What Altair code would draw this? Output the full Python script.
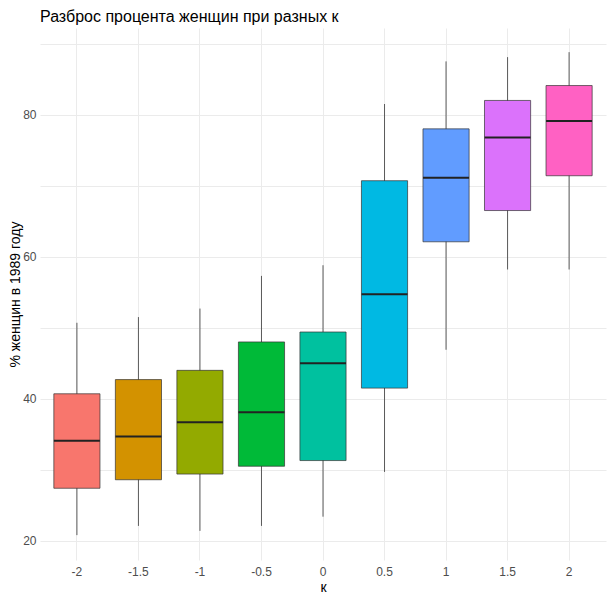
import altair as alt
import pandas as pd

categories = ["-2", "-1.5", "-1", "-0.5", "0", "0.5", "1", "1.5", "2"]
lower = [20.8, 22.1, 21.4, 22.1, 23.4, 29.7, 46.9, 58.2, 58.2]
q1 = [27.4, 28.6, 29.4, 30.5, 31.3, 41.5, 62.1, 66.5, 71.4]
median = [34.1, 34.7, 36.7, 38.1, 45.0, 54.7, 71.1, 76.8, 79.1]
q3 = [40.7, 42.7, 44.0, 48.0, 49.4, 70.7, 78.0, 82.0, 84.1]
upper = [50.7, 51.5, 52.7, 57.3, 58.8, 81.5, 87.5, 88.1, 88.8]
colors = ["#F8766D", "#D39200", "#93AA00", "#00BA38", "#00C19F",
          "#00B9E3", "#619CFF", "#DB72FB", "#FF61C3"]

df = pd.DataFrame({"k": categories, "lower": lower, "q1": q1,
                   "median": median, "q3": q3, "upper": upper})

xenc = alt.X("k:N", sort=categories, title="к",
             scale=alt.Scale(paddingInner=0, paddingOuter=0.1),
             axis=alt.Axis(labelAngle=0, grid=True, bandPosition=0.5))
yscale = alt.Scale(domain=[17.3, 92.2], nice=False, zero=False)
yaxis = alt.Axis(values=[20, 30, 40, 50, 60, 70, 80, 90],
                 labelExpr="datum.value % 20 === 0 ? datum.label : ''",
                 grid=True)
color = alt.Color("k:N", scale=alt.Scale(domain=categories, range=colors), legend=None)

base = alt.Chart(df)

whisk = base.mark_rule(color="#333333", strokeWidth=0.8).encode(
    x=xenc,
    y=alt.Y("lower:Q", scale=yscale, axis=yaxis, title="% женщин в 1989 году"),
    y2="upper:Q",
)
box = base.mark_bar(stroke="#333333", strokeWidth=0.7,
                    width=alt.RelativeBandSize(0.75)).encode(
    x=xenc,
    y=alt.Y("q1:Q", scale=yscale),
    y2="q3:Q",
    color=color,
)
med = base.mark_tick(color="#222222", thickness=2, size=46, opacity=1).encode(
    x=xenc,
    y=alt.Y("median:Q", scale=yscale),
)

chart = alt.layer(whisk, box, med).properties(
    width=566, height=532,
    title=alt.TitleParams("Разброс процента женщин при разных к", anchor="start",
                          frame="group", fontSize=16, font="Liberation Sans",
                          fontWeight="normal", color="#000000",
                          baseline="alphabetic", offset=8, dy=18),
    autosize=alt.AutoSizeParams(type="none"),
    padding={"left": 40, "top": 28, "right": 8, "bottom": 40},
    background="white",
).configure_view(stroke=None).configure_axis(
    domain=False, ticks=False, tickSize=0,
    gridColor="#EBEBEB", gridWidth=1,
    labelFont="Liberation Sans", labelFontSize=12, labelColor="#4D4D4D",
    titleFont="Liberation Sans", titleFontSize=14, titleColor="#000000",
    titleFontWeight="normal",
).configure_axisX(labelPadding=6, titlePadding=3).configure_axisY(
    labelPadding=4, titlePadding=0)

chart.save("out.html", embed_options={"renderer": "svg", "actions": False})
